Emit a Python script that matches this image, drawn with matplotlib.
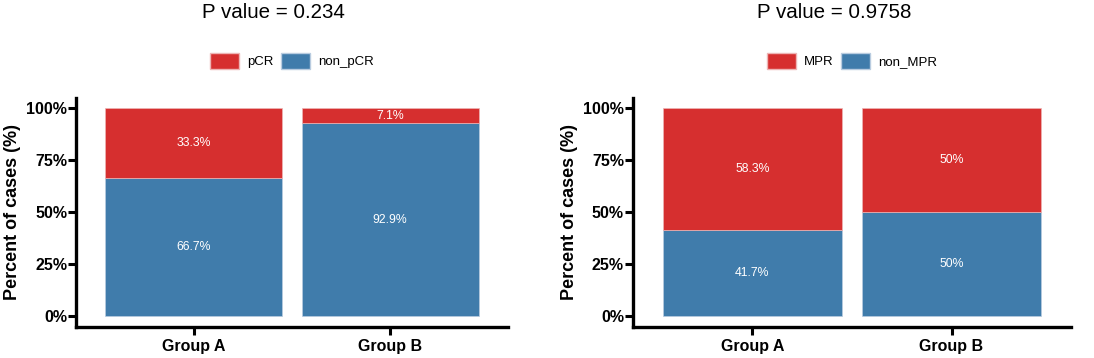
import matplotlib
matplotlib.use("Agg")
import matplotlib.pyplot as plt
from matplotlib.patches import Patch

plt.rcParams["font.family"] = ["Liberation Sans", "DejaVu Sans"]

groups = ["Group A", "Group B"]

# panel 1: pCR
pcr = [33.3, 7.1]
non_pcr = [66.7, 92.9]
p_pcr = "0.234"

# panel 2: MPR
mpr = [58.3, 50]
non_mpr = [41.7, 50]
p_mpr = "0.9758"

RED = "#D62F2F"
BLUE = "#407CAB"


def draw_panel(fig, rect, title_x, pos_vals, neg_vals, pos_name, neg_name, pval):
    ax = fig.add_axes(rect)
    x = list(range(1, len(groups) + 1))
    neg = [v / 100 for v in neg_vals]
    pos = [v / 100 for v in pos_vals]

    ax.bar(x, neg, width=0.9, color=BLUE, edgecolor="#B9CCE0", linewidth=0.5)
    ax.bar(x, pos, width=0.9, bottom=neg, color=RED, edgecolor="#EDB5B5", linewidth=0.5)

    for xi, n, p, nv, pv in zip(x, neg, pos, neg_vals, pos_vals):
        ax.text(xi, n / 2, f"{nv:g}%", ha="center", va="center", color="white", fontsize=8.8)
        ax.text(xi, n + p / 2, f"{pv:g}%", ha="center", va="center", color="white", fontsize=8.8)

    ax.set_xlim(0.4, 2.6)
    ax.set_ylim(-0.05, 1.05)
    ax.set_xticks(x)
    ax.set_xticklabels(groups, fontsize=11.5, fontweight="bold")
    ax.set_yticks([0, 0.25, 0.5, 0.75, 1.0])
    ax.set_yticklabels(["0%", "25%", "50%", "75%", "100%"], fontsize=11.5, fontweight="bold")
    ax.tick_params(width=2.2, length=6)
    ax.tick_params(axis="y", pad=0.5)
    ax.tick_params(axis="x", pad=3)
    for side in ["top", "right"]:
        ax.spines[side].set_visible(False)
    for side in ["left", "bottom"]:
        ax.spines[side].set_linewidth(2.4)
    ax.set_ylabel("Percent of cases (%)", fontsize=13, fontweight="bold", labelpad=4)

    handles = [Patch(facecolor=RED, edgecolor="#EDB5B5", label=pos_name),
               Patch(facecolor=BLUE, edgecolor="#B9CCE0", label=neg_name)]
    ax.legend(handles=handles, ncol=2, loc="center", bbox_to_anchor=(0.5, 1.162),
              frameon=False, fontsize=9.5, handlelength=2.2, handleheight=1.5,
              handletextpad=0.6, columnspacing=0.6, borderaxespad=0)

    fig.text(title_x, 0.966, f"P value = {pval}", ha="center", va="center", fontsize=14.8)
    return ax


fig = plt.figure(figsize=(10.94, 3.58), dpi=100)
draw_panel(fig, [0.0695, 0.0874, 0.3949, 0.639], 0.2495, pcr, non_pcr, "pCR", "non_pCR", p_pcr)
draw_panel(fig, [0.5786, 0.0874, 0.4004, 0.639], 0.7623, mpr, non_mpr, "MPR", "non_MPR", p_mpr)

fig.savefig("out.png", dpi=100)
plt.close(fig)
